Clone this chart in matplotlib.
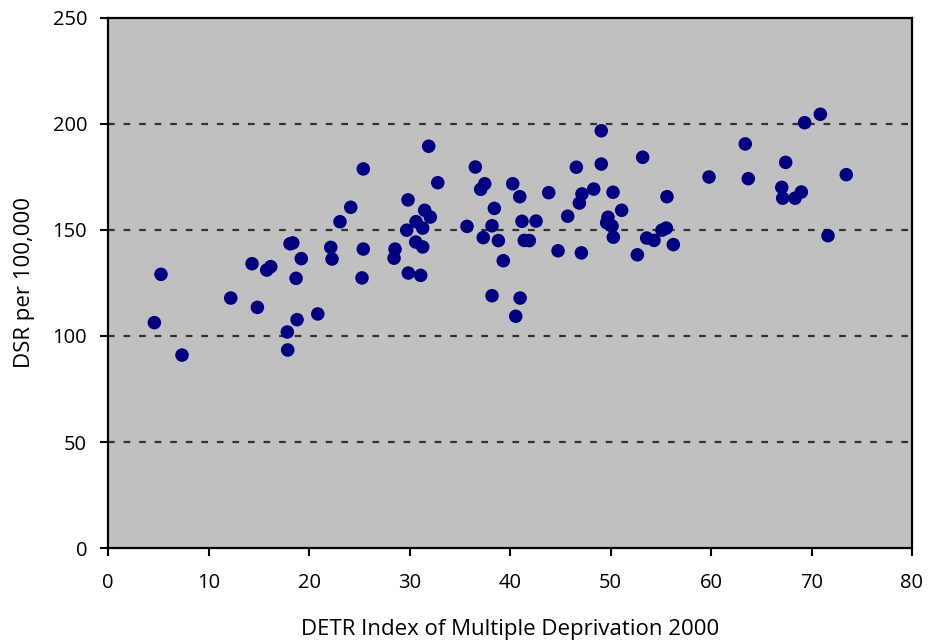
import matplotlib
matplotlib.use("Agg")
import matplotlib.pyplot as plt

# DETR Index of Multiple Deprivation 2000 vs DSR per 100,000
imd = [4.61, 5.27, 7.36, 12.21, 14.33, 14.86, 15.79, 16.19, 17.84, 17.88,
       18.11, 18.38, 19.23, 18.71, 18.81, 20.87, 23.08, 24.15, 25.40, 22.16,
       22.29, 25.40, 25.27, 28.56, 28.46, 29.85, 29.72, 29.88, 30.65, 30.62,
       31.11, 31.31, 31.31, 31.51, 31.91, 32.07, 32.81, 35.72, 36.55, 37.08,
       37.48, 37.34, 38.21, 38.21, 38.44, 38.84, 39.33, 40.27, 40.57, 41.00,
       40.97, 41.19, 41.42, 41.92, 42.59, 43.85, 44.78, 45.74, 46.60, 46.90,
       47.16, 47.10, 48.33, 49.08, 49.08, 49.75, 49.62, 50.15, 50.25, 50.28,
       51.11, 52.67, 53.20, 53.60, 54.33, 55.12, 55.55, 55.62, 56.25, 59.80,
       63.41, 63.71, 67.04, 67.13, 67.43, 68.36, 68.99, 69.32, 70.88, 71.64,
       73.46]
dsr = [106.3, 129.1, 91.0, 117.9, 134.1, 113.5, 131.1, 132.7, 101.9, 93.4,
       143.5, 143.9, 136.5, 127.2, 107.7, 110.4, 153.9, 160.7, 178.8, 141.8,
       136.3, 141.0, 127.4, 141.0, 136.7, 164.2, 149.9, 129.7, 153.9, 144.3,
       128.6, 142.0, 150.9, 159.3, 189.5, 156.1, 172.3, 151.7, 179.7, 169.2,
       171.8, 146.4, 119.0, 152.0, 160.2, 145.0, 135.5, 171.8, 109.3, 117.9,
       165.7, 154.1, 145.1, 145.0, 154.2, 167.6, 140.2, 156.5, 179.6, 162.7,
       167.0, 139.2, 169.3, 196.8, 181.1, 156.0, 153.4, 151.9, 167.8, 146.6,
       159.3, 138.3, 184.3, 146.2, 145.1, 149.9, 150.9, 165.7, 143.1, 175.0,
       190.6, 174.2, 170.1, 165.0, 181.9, 165.0, 167.9, 200.6, 204.6, 147.3,
       176.1]

x_ticks = list(range(0, 81, 10))
y_ticks = list(range(0, 251, 50))

plt.rcParams["font.family"] = ["Open Sans", "DejaVu Sans"]

fig = plt.figure(figsize=(9.29, 6.42), dpi=100)
ax = fig.add_axes([0.1163, 0.1464, 0.8654, 0.8256])
ax.set_facecolor("#c0c0c0")

for yv in y_ticks[1:-1]:
    ax.axhline(yv, color="#333333", linestyle=(0, (3, 4)), linewidth=1.6, zorder=1)

ax.scatter(imd, dsr, s=95, color="#000080", edgecolors="none", zorder=3)

ax.set_xlim(0, 80)
ax.set_ylim(0, 250)
ax.set_xticks(x_ticks)
ax.set_yticks(y_ticks)
ax.tick_params(axis="both", direction="out", length=6, width=1.5,
               labelsize=14.5, colors="black")
ax.tick_params(axis="x", pad=12)
ax.tick_params(axis="y", pad=9)
for sp in ax.spines.values():
    sp.set_linewidth(1.6)
    sp.set_color("black")

ax.set_xlabel("DETR Index of Multiple Deprivation 2000", fontsize=16, labelpad=19)
ax.set_ylabel("DSR per 100,000", fontsize=16, labelpad=13)

fig.savefig("out.png", dpi=100)
